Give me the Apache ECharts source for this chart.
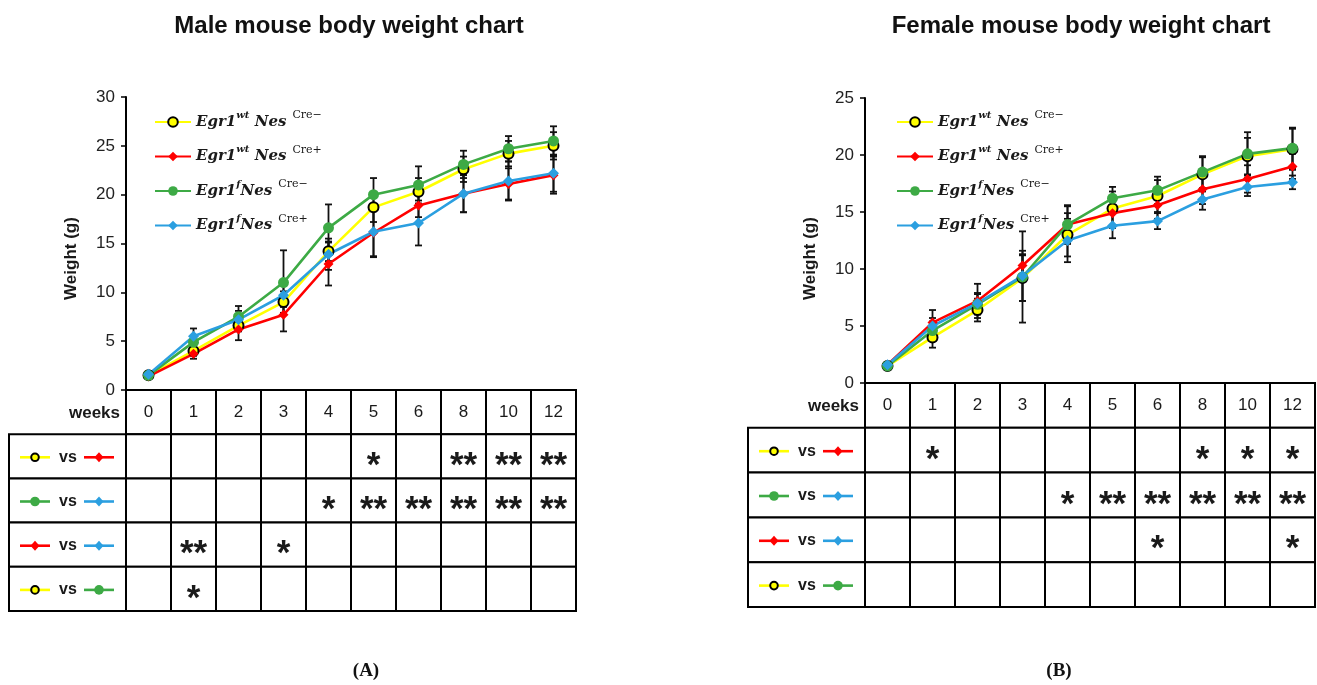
<!DOCTYPE html>
<html>
<head>
<meta charset="utf-8">
<title>Mouse body weight</title>
<script src="https://cdn.jsdelivr.net/npm/echarts@6.0.0/dist/echarts.min.js"></script>
<style>
  html, body { margin: 0; padding: 0; background: #fff; }
  #main { width: 1317px; height: 685px; }
</style>
</head>
<body>
<div id="main"></div>
<script>
// weeks on the x axis / table header
var weeks = ['0', '1', '2', '3', '4', '5', '6', '8', '10', '12'];
var rowKeys = ['weeks', 'c1', 'c2', 'c3', 'c4'];

// male body weight (g)
var maleWtNeg = [1.5, 4.0, 6.6, 9.0, 14.2, 18.7, 20.3, 22.6, 24.2, 25.0];
var maleWtPos = [1.4, 3.7, 6.2, 7.7, 12.9, 16.1, 18.9, 20.1, 21.1, 22.0];
var maleFNeg  = [1.5, 4.9, 7.5, 11.0, 16.6, 20.0, 21.0, 23.1, 24.7, 25.5];
var maleFPos  = [1.6, 5.5, 7.2, 9.7, 13.9, 16.2, 17.1, 20.1, 21.4, 22.2];
// male error bars (g)
var maleWtNegErr = [0.2, 0.5, 0.6, 1.1, 1.0, 1.5, 1.4, 1.3, 1.3, 1.4];
var maleWtPosErr = [0.2, 0.5, 1.1, 1.7, 2.2, 2.4, 1.2, 1.9, 1.6, 1.9];
var maleFNegErr  = [0.2, 0.6, 1.1, 3.3, 2.4, 1.7, 1.9, 1.4, 1.3, 1.5];
var maleFPosErr  = [0.2, 0.8, 0.9, 1.2, 1.6, 2.6, 2.3, 1.9, 2.0, 1.9];

// female body weight (g)
var femaleWtNeg = [1.5, 4.0, 6.4, 9.2, 13.0, 15.3, 16.4, 18.3, 19.9, 20.5];
var femaleWtPos = [1.6, 5.3, 7.2, 10.3, 13.9, 14.9, 15.6, 17.0, 17.9, 19.0];
var femaleFNeg  = [1.5, 4.6, 6.9, 9.3, 13.9, 16.2, 16.9, 18.5, 20.1, 20.6];
var femaleFPos  = [1.6, 5.0, 7.0, 9.4, 12.5, 13.8, 14.2, 16.1, 17.2, 17.6];
// female error bars (g)
var femaleWtNegErr = [0.2, 0.9, 1.0, 2.0, 1.9, 1.5, 1.4, 1.5, 1.6, 1.8];
var femaleWtPosErr = [0.2, 1.1, 1.5, 1.0, 1.7, 1.3, 1.2, 1.3, 1.2, 1.1];
var femaleFNegErr  = [0.2, 0.8, 0.9, 4.0, 1.6, 1.0, 1.2, 1.4, 1.9, 1.8];
var femaleFPosErr  = [0.2, 0.7, 0.9, 2.2, 1.9, 1.1, 0.7, 0.9, 0.8, 0.6];

// comparisons shown in the tables (row order)
var pairs = [['wtNeg', 'wtPos'], ['fNeg', 'fPos'], ['wtPos', 'fPos'], ['wtNeg', 'fNeg']];

// significance marks, male
var maleSig1 = ['', '', '', '', '', '*', '', '**', '**', '**'];
var maleSig2 = ['', '', '', '', '*', '**', '**', '**', '**', '**'];
var maleSig3 = ['', '**', '', '*', '', '', '', '', '', ''];
var maleSig4 = ['', '*', '', '', '', '', '', '', '', ''];
// significance marks, female
var femaleSig1 = ['', '*', '', '', '', '', '', '*', '*', '*'];
var femaleSig2 = ['', '', '', '', '*', '**', '**', '**', '**', '**'];
var femaleSig3 = ['', '', '', '', '', '', '*', '', '', '*'];
var femaleSig4 = ['', '', '', '', '', '', '', '', '', ''];

var groupStyle = {
  wtNeg: { color: '#FFFF00', symbol: 'circle', size: 10, border: '#000' },
  wtPos: { color: '#FF0000', symbol: 'diamond', size: 10, border: null },
  fNeg:  { color: '#3DAA45', symbol: 'circle', size: 11, border: null },
  fPos:  { color: '#2B9FE0', symbol: 'diamond', size: 11, border: null }
};

var legendRich = {
  i: { fontFamily: 'DejaVu Serif', fontStyle: 'italic', fontWeight: 'bold', fontSize: 15, color: '#1a1a1a', lineHeight: 24 },
  s: { fontFamily: 'DejaVu Serif', fontStyle: 'italic', fontWeight: 'bold', fontSize: 10, color: '#1a1a1a', lineHeight: 10, verticalAlign: 'top' },
  c: { fontFamily: 'DejaVu Serif', fontSize: 11, color: '#1a1a1a', lineHeight: 10, verticalAlign: 'top', padding: [0, 0, 0, 6] }
};
var legendText = {
  wtNeg: '{i|Egr1}{s|wt}{i| Nes}{c|Cre\u2212}',
  wtPos: '{i|Egr1}{s|wt}{i| Nes}{c|Cre+}',
  fNeg:  '{i|Egr1}{s|f}{i|Nes}{c|Cre\u2212}',
  fPos:  '{i|Egr1}{s|f}{i|Nes}{c|Cre+}'
};

var chart = echarts.init(document.getElementById('main'));

function lineSeries(key, data, axis) {
  var g = groupStyle[key];
  return {
    name: key,
    type: 'line',
    xAxisIndex: axis, yAxisIndex: axis,
    data: data,
    symbol: g.symbol,
    symbolSize: g.size,
    showSymbol: true,
    z: 3,
    lineStyle: { color: g.color, width: 2.6 },
    itemStyle: { color: g.color, borderColor: g.border || g.color, borderWidth: g.border ? 2 : 0 },
    emphasis: { disabled: true }
  };
}

function errorSeries(values, errs, axis) {
  var data = values.map(function (v, i) { return [i, v, errs[i]]; });
  return {
    type: 'custom',
    xAxisIndex: axis, yAxisIndex: axis,
    data: data,
    encode: { x: 0, y: 1 },
    z: 2,
    silent: true,
    renderItem: function (params, api) {
      var x = api.value(0), y = api.value(1), e = api.value(2);
      var hi = api.coord([x, y + e]);
      var lo = api.coord([x, y - e]);
      var w = 3.5;
      var st = { stroke: '#111', lineWidth: 1.8 };
      return {
        type: 'group',
        children: [
          { type: 'line', shape: { x1: hi[0], y1: hi[1], x2: lo[0], y2: lo[1] }, style: st },
          { type: 'line', shape: { x1: hi[0] - w, y1: hi[1], x2: hi[0] + w, y2: hi[1] }, style: st },
          { type: 'line', shape: { x1: lo[0] - w, y1: lo[1], x2: lo[0] + w, y2: lo[1] }, style: st }
        ]
      };
    }
  };
}

function cellSeries(sigRows, axis) {
  var data = [], texts = [];
  rowKeys.forEach(function (k, r) {
    weeks.forEach(function (w, c) {
      data.push([c, r]);
      texts.push(r === 0 ? w : sigRows[r - 1][c]);
    });
  });
  return {
    type: 'custom',
    xAxisIndex: axis, yAxisIndex: axis,
    data: data,
    encode: { x: 0, y: 1 },
    silent: true,
    renderItem: function (params, api) {
      var r = api.value(1);
      var c = api.coord([api.value(0), r]);
      var s = api.size([1, 1]);
      var t = texts[params.dataIndex];
      var children = [{
        type: 'rect',
        shape: { x: c[0] - s[0] / 2, y: c[1] - s[1] / 2, width: s[0], height: s[1] },
        style: { fill: '#fff', stroke: '#000', lineWidth: 2 }
      }];
      if (t) {
        children.push({
          type: 'text',
          x: c[0], y: r === 0 ? c[1] : c[1] + 10,
          style: {
            text: t, align: 'center', verticalAlign: 'middle',
            fontFamily: 'Liberation Sans',
            fontWeight: r === 0 ? 'normal' : 'bold',
            fontSize: r === 0 ? 17 : 35,
            fill: '#1a1a1a'
          }
        });
      }
      return { type: 'group', children: children };
    }
  };
}

function marker(key, cx, cy) {
  var g = groupStyle[key];
  if (g.symbol === 'circle') {
    return { type: 'circle', shape: { cx: cx, cy: cy, r: g.border ? 3.8 : 4.8 },
      style: { fill: g.color, stroke: g.border || g.color, lineWidth: g.border ? 2 : 0 } };
  }
  return { type: 'polygon', shape: { points: [[cx, cy - 5], [cx + 4.5, cy], [cx, cy + 5], [cx - 4.5, cy]] },
    style: { fill: g.color } };
}

function miniIcon(key, x0, cy) {
  return [
    { type: 'line', shape: { x1: x0, y1: cy, x2: x0 + 30, y2: cy }, style: { stroke: groupStyle[key].color, lineWidth: 2.6 } },
    marker(key, x0 + 15, cy)
  ];
}

function rowLabelSeries(axis) {
  var labelW = 117;
  return {
    type: 'custom',
    xAxisIndex: axis, yAxisIndex: axis,
    data: rowKeys.map(function (k, r) { return [0, r]; }),
    encode: { x: 0, y: 1 },
    silent: true,
    renderItem: function (params, api) {
      var r = api.value(1);
      var cy = api.coord([0, r])[1];
      var h = api.size([1, 1])[1];
      var right = params.coordSys.x;
      var x0 = right - labelW;
      if (r === 0) {
        return { type: 'text', x: right - 6, y: cy + 1,
          style: { text: 'weeks', align: 'right', verticalAlign: 'middle',
            fontFamily: 'Liberation Sans', fontWeight: 'bold', fontSize: 17, fill: '#1a1a1a' } };
      }
      var p = pairs[r - 1];
      var children = [{ type: 'rect', shape: { x: x0, y: cy - h / 2, width: labelW, height: h },
        style: { fill: '#fff', stroke: '#000', lineWidth: 2 } }];
      children = children.concat(miniIcon(p[0], x0 + 11, cy + 1));
      children.push({ type: 'text', x: x0 + 59, y: cy + 1,
        style: { text: 'vs', align: 'center', verticalAlign: 'middle',
          fontFamily: 'Liberation Sans', fontWeight: 'bold', fontSize: 16, fill: '#1a1a1a' } });
      children = children.concat(miniIcon(p[1], x0 + 75, cy + 1));
      return { type: 'group', children: children };
    }
  };
}

function valueAxis(axis, max, nameShift) {
  return {
    type: 'value', gridIndex: axis, min: 0, max: max, interval: 5,
    name: 'Weight (g)', nameLocation: 'middle', nameGap: 46, nameRotate: 90,
    nameTextStyle: { fontFamily: 'Liberation Sans', fontWeight: 'bold', fontSize: 17, color: '#1a1a1a', padding: [0, nameShift, 0, 0] },
    axisLine: { show: true, lineStyle: { color: '#000', width: 2 } },
    axisTick: { show: true, inside: false, length: 5, lineStyle: { color: '#000', width: 1.5 } },
    axisLabel: { margin: 11, fontFamily: 'Liberation Sans', fontSize: 17, color: '#222' },
    splitLine: { show: false }
  };
}

function weekAxis(axis, visibleLine) {
  return {
    type: 'category', gridIndex: axis, data: weeks, boundaryGap: true,
    axisLine: { show: visibleLine, onZero: false, lineStyle: { color: '#000', width: 2 } },
    axisTick: { show: false }, axisLabel: { show: false }, splitLine: { show: false }
  };
}

function rowAxis(axis) {
  return {
    type: 'category', gridIndex: axis, data: rowKeys, inverse: true,
    axisLine: { show: false }, axisTick: { show: false }, axisLabel: { show: false }, splitLine: { show: false }
  };
}

function legendFor(left) {
  return {
    orient: 'vertical', left: left, top: 110, padding: 0,
    itemWidth: 36, itemHeight: 12, itemGap: 15,
    selectedMode: false,
    data: ['wtNeg', 'wtPos', 'fNeg', 'fPos'],
    formatter: function (name) { return legendText[name]; },
    textStyle: { rich: legendRich }
  };
}

var panelLabelRich = {
  p: { fontFamily: 'Liberation Serif', fontSize: 19, color: '#111' },
  b: { fontFamily: 'Liberation Serif', fontWeight: 'bold', fontSize: 19, color: '#111' }
};

var titleFont = { fontFamily: 'Liberation Sans', fontWeight: 'bold', fontSize: 24, color: '#111' };

var option = {
  animation: false,
  backgroundColor: '#fff',
  title: [
    { text: 'Male mouse body weight chart', left: 349, top: 14, padding: 0, textAlign: 'center', textStyle: titleFont },
    { text: 'Female mouse body weight chart', left: 1081, top: 14, padding: 0, textAlign: 'center', textStyle: titleFont },
    { text: '{p|(}{b|A}{p|)}', left: 366, top: 662, padding: 0, textAlign: 'center', textStyle: { rich: panelLabelRich } },
    { text: '{p|(}{b|B}{p|)}', left: 1059, top: 662, padding: 0, textAlign: 'center', textStyle: { rich: panelLabelRich } }
  ],
  legend: [legendFor(154), legendFor(896)],
  grid: [
    { left: 126, top: 97, width: 450, height: 293, outerBoundsMode: 'none' },
    { left: 126, top: 390, width: 450, height: 221, outerBoundsMode: 'none' },
    { left: 865, top: 98, width: 450, height: 285, outerBoundsMode: 'none' },
    { left: 865, top: 383, width: 450, height: 224, outerBoundsMode: 'none' }
  ],
  xAxis: [weekAxis(0, true), weekAxis(1, false), weekAxis(2, true), weekAxis(3, false)],
  yAxis: [valueAxis(0, 30, 30), rowAxis(1), valueAxis(2, 25, 36), rowAxis(3)],
  series: [
    errorSeries(maleWtNeg, maleWtNegErr, 0),
    errorSeries(maleWtPos, maleWtPosErr, 0),
    errorSeries(maleFNeg, maleFNegErr, 0),
    errorSeries(maleFPos, maleFPosErr, 0),
    lineSeries('wtNeg', maleWtNeg, 0),
    lineSeries('wtPos', maleWtPos, 0),
    lineSeries('fNeg', maleFNeg, 0),
    lineSeries('fPos', maleFPos, 0),
    cellSeries([maleSig1, maleSig2, maleSig3, maleSig4], 1),
    rowLabelSeries(1),

    errorSeries(femaleWtNeg, femaleWtNegErr, 2),
    errorSeries(femaleWtPos, femaleWtPosErr, 2),
    errorSeries(femaleFNeg, femaleFNegErr, 2),
    errorSeries(femaleFPos, femaleFPosErr, 2),
    lineSeries('wtNeg', femaleWtNeg, 2),
    lineSeries('wtPos', femaleWtPos, 2),
    lineSeries('fNeg', femaleFNeg, 2),
    lineSeries('fPos', femaleFPos, 2),
    cellSeries([femaleSig1, femaleSig2, femaleSig3, femaleSig4], 3),
    rowLabelSeries(3)
  ]
};

chart.setOption(option);
</script>
</body>
</html>
